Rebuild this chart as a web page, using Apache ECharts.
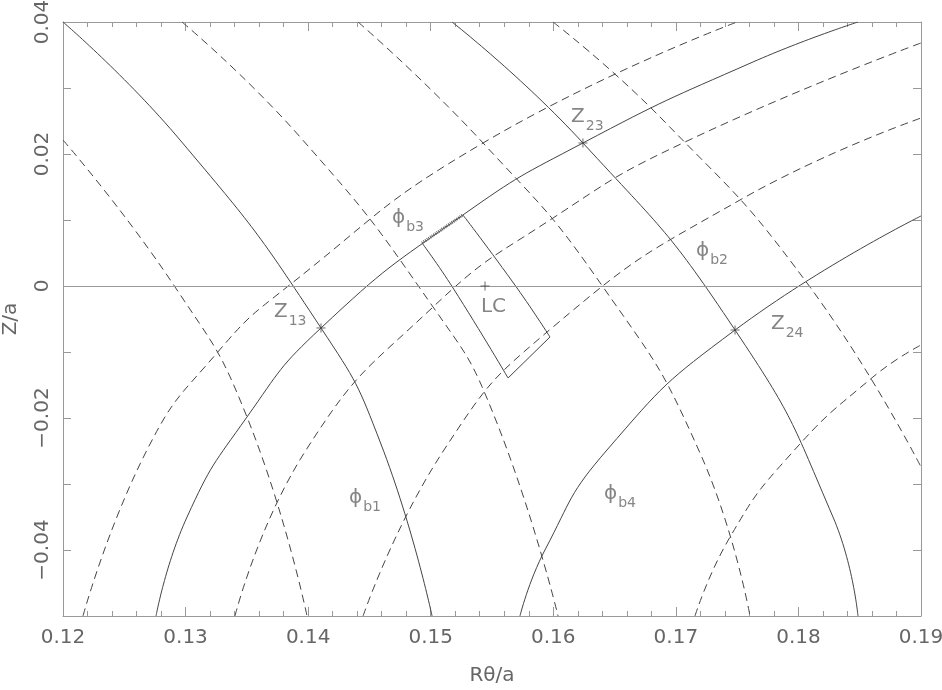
<!DOCTYPE html>
<html>
<head>
<meta charset="utf-8">
<title>Z/a vs Rθ/a</title>
<script src="https://cdn.jsdelivr.net/npm/echarts@6.0.0/dist/echarts.min.js"></script>
<style>
  html, body { margin: 0; padding: 0; background: #fff; }
  #chart { width: 942px; height: 690px; }
</style>
</head>
<body>
<div id="chart"></div>
<script>
// 实线：四条 φb 等值线（点取自原图）
const phiB1 = [[0.12, 0.04], [0.12955, 0.02212], [0.14105, -0.00636], [0.14594, -0.02394], [0.15011, -0.05]];
const phiB2 = [[0.15174, 0.04], [0.16242, 0.02167], [0.17483, -0.00667], [0.18282, -0.035], [0.18486, -0.05]];
const phiB3 = [[0.12759, -0.05], [0.13012, -0.035], [0.13501, -0.01985], [0.14105, -0.00636], [0.15263, 0.01076],
  [0.16242, 0.02167], [0.17629, 0.03394], [0.18486, 0.04]];
const phiB4 = [[0.15728, -0.05], [0.15932, -0.04], [0.16438, -0.02485], [0.17483, -0.00667], [0.19, 0.01061]];

// 虚线：每条实线两侧各一条
const dashB1a = [[0.12, 0.02212], [0.12914, -0.00015], [0.13501, -0.01985], [0.13991, -0.05]];
const dashB1b = [[0.12971, 0.04], [0.13934, 0.02258], [0.15019, -0.00318], [0.15508, -0.01924], [0.16039, -0.05]];
const dashB2a = [[0.14407, 0.04], [0.15427, 0.02167], [0.16406, -0.00015], [0.17197, -0.0253], [0.17605, -0.05]];
const dashB2b = [[0.15998, 0.04], [0.16895, 0.02515], [0.1807, 0.00045], [0.19, -0.02742]];
const dashB3a = [[0.12163, -0.05], [0.12685, -0.02485], [0.13256, -0.01015], [0.13828, -0.00015], [0.15427, 0.02167],
  [0.17499, 0.04]];
const dashB3b = [[0.13403, -0.05], [0.13983, -0.02485], [0.15019, -0.00318], [0.15998, 0.0103], [0.17058, 0.02167],
  [0.19, 0.03682]];
const dashB4a = [[0.14448, -0.05], [0.15108, -0.02485], [0.15998, -0.00621], [0.17523, 0.01303], [0.19, 0.02545]];
const dashB4b = [[0.17156, -0.05], [0.17442, -0.03803], [0.17931, -0.02561], [0.18608, -0.01379], [0.19, -0.00894]];

// LC 周围的方框
const boxLeft = [[0.14929, 0.00652], [0.15182, -0.0003], [0.15631, -0.01394]];
const boxRight = [[0.15263, 0.01076], [0.15704, -0.0003], [0.15973, -0.00773]];
const boxBottom = [[0.15631, -0.01394], [0.15973, -0.00773]];
const boxTop = [[0.14929, 0.00652], [0.15263, 0.01076]];

// 交点和 LC 的十字标记
const crossPoints = [[0.14105, -0.00636], [0.16242, 0.02167], [0.17483, -0.00667], [0.15443, 0]];

// 文字标注：[主字, 下标, x, y]（x,y 为文字左上角）
const notes = [
  ['Z', '23', 0.16145, 0.02712],
  ['Z', '13', 0.13721, -0.00242],
  ['Z', '24', 0.17776, -0.00424],
  ['LC', '', 0.1541, -0.00167],
  ['\u03d5', 'b3', 0.14684, 0.01182],
  ['\u03d5', 'b2', 0.17164, 0.00682],
  ['\u03d5', 'b1', 0.14333, -0.0306],
  ['\u03d5', 'b4', 0.16414, -0.03]
];

const lineColor = '#444';
const textColor = '#666';
const frameColor = '#999';
const font = 'DejaVu Sans';

function curve(data, dashed, extra) {
  return Object.assign({
    type: 'line',
    data: data,
    showSymbol: false,
    smooth: 0.5,
    silent: true,
    lineStyle: { color: lineColor, width: 1, type: dashed ? [8, 5] : 'solid' }
  }, extra || {});
}

function xAxisOf(pos) {
  return {
    type: 'value',
    position: pos,
    min: 0.12,
    max: 0.19,
    interval: 0.01,
    axisLine: { show: true, onZero: false, lineStyle: { color: frameColor } },
    axisTick: { show: true, inside: true, length: 9, lineStyle: { color: frameColor } },
    minorTick: { show: true, splitNumber: 5, length: 5, lineStyle: { color: frameColor } },
    splitLine: { show: false },
    axisLabel: {
      show: pos === 'bottom',
      margin: 12,
      fontSize: 20,
      fontFamily: font,
      color: textColor,
      formatter: v => v.toFixed(2)
    }
  };
}

function yAxisOf(pos) {
  return {
    type: 'value',
    position: pos,
    min: -0.05,
    max: 0.04,
    interval: 0.01,
    axisLine: { show: true, onZero: false, lineStyle: { color: frameColor } },
    axisTick: { show: true, inside: true, length: 8, lineStyle: { color: frameColor } },
    splitLine: { show: false },
    axisLabel: {
      show: pos === 'left',
      rotate: 90,
      margin: 10,
      fontSize: 20,
      fontFamily: font,
      color: textColor,
      formatter: v => {
        const k = Math.round(v * 100);
        if (k % 2 !== 0) return '';
        if (k === 0) return '0';
        return (k < 0 ? '\u2212' : '') + Math.abs(v).toFixed(2);
      }
    }
  };
}

const chart = echarts.init(document.getElementById('chart'));

const xBottom = Object.assign(xAxisOf('bottom'), {
  name: 'R\u03b8/a', nameLocation: 'middle', nameGap: 50,
  nameTextStyle: { fontSize: 20, fontFamily: font, color: textColor }
});
const yLeft = Object.assign(yAxisOf('left'), {
  name: 'Z/a', nameLocation: 'middle', nameGap: 42, nameRotate: 90,
  nameTextStyle: { fontSize: 20, fontFamily: font, color: textColor }
});

const series = [
  curve(phiB1, false, {
    markLine: {
      silent: true, symbol: 'none', label: { show: false },
      lineStyle: { color: frameColor, type: 'solid', width: 1 },
      data: [{ yAxis: 0 }]
    }
  }),
  curve(phiB2, false), curve(phiB3, false), curve(phiB4, false),
  curve(dashB1a, true), curve(dashB1b, true), curve(dashB2a, true), curve(dashB2b, true),
  curve(dashB3a, true), curve(dashB3b, true), curve(dashB4a, true), curve(dashB4b, true),
  curve(boxLeft, false), curve(boxRight, false), curve(boxBottom, false, { smooth: false }),
  curve(boxTop, false, { smooth: false, lineStyle: { color: '#666', width: 3, type: [1, 1] } }),
  {
    type: 'scatter',
    data: crossPoints,
    symbol: 'path://M0,5L10,5M5,0L5,10',
    symbolSize: 9,
    silent: true,
    z: 5,
    itemStyle: { color: 'none', borderColor: lineColor, borderWidth: 1 }
  },
  {
    type: 'scatter',
    symbolSize: 0,
    silent: true,
    data: notes.map(n => ({ value: [n[2], n[3]], main: n[0], sub: n[1] })),
    label: {
      show: true,
      position: [0, 0],
      align: 'left',
      verticalAlign: 'top',
      formatter: p => '{m|' + p.data.main + '}' + (p.data.sub ? '{s|' + p.data.sub + '}' : ''),
      rich: {
        m: { fontSize: 20, lineHeight: 20, fontFamily: font, color: textColor, verticalAlign: 'top' },
        s: { fontSize: 14, lineHeight: 14, fontFamily: font, color: textColor, verticalAlign: 'top', padding: [12, 0, 0, 1] }
      }
    }
  }
];

chart.setOption({
  animation: false,
  backgroundColor: '#fff',
  grid: { left: 63, right: 21, top: 22, bottom: 74, containLabel: false, outerBoundsMode: 'none' },
  xAxis: [xBottom, xAxisOf('top')],
  yAxis: [yLeft, yAxisOf('right')],
  series: series
});
</script>
</body>
</html>
